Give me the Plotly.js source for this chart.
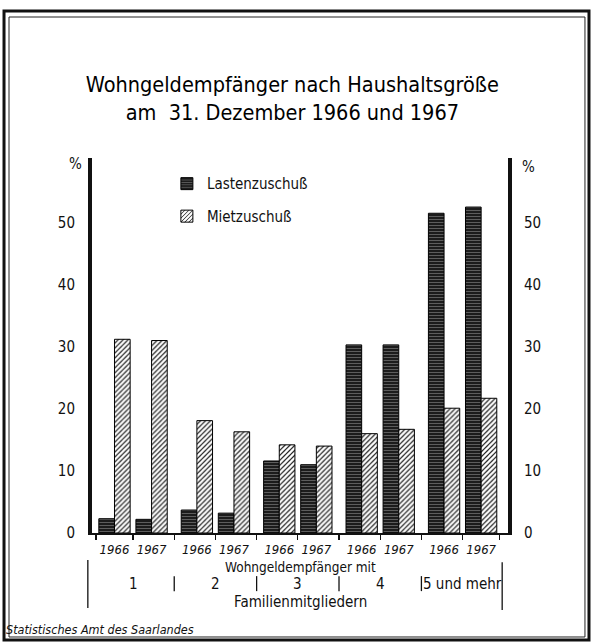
<!DOCTYPE html>
<html>
<head>
<meta charset="utf-8">
<script src="https://cdn.plot.ly/plotly-3.0.1.min.js"></script>
<style>html,body{margin:0;padding:0;background:#fff;}#chart{width:593px;height:643px;}</style>
</head>
<body>
<div id="chart"></div>
<script>
// ---- data ----
const groups = ['1', '2', '3', '4', '5 und mehr'];
const years = ['1966', '1967'];
const lastenzuschuss = [2.3, 2.2, 3.7, 3.2, 11.6, 11.0, 30.3, 30.3, 51.5, 52.5];
const mietzuschuss = [31.2, 31.0, 18.1, 16.3, 14.2, 14.0, 16.0, 16.7, 20.1, 21.7];
const yTicks = [0, 10, 20, 30, 40, 50];

// ---- derived positions (group index + year offset) ----
const yearOffset = 0.225;
const xPos = [], yearLabels = [];
groups.forEach((g, gi) => {
  years.forEach((y, yi) => {
    xPos.push(gi + 1 + (yi === 0 ? -yearOffset : yearOffset));
    yearLabels.push(y);
  });
});
const boundaries = [];
boundaries.push(xPos[0] - (xPos[1] - xPos[0]) / 2);
for (let i = 0; i < xPos.length - 1; i++) boundaries.push((xPos[i] + xPos[i + 1]) / 2);
boundaries.push(xPos[xPos.length - 1] + (xPos[1] - xPos[0]) / 2);

const FONT = '"Liberation Sans Narrow", "DejaVu Sans Condensed", "Roboto Condensed", "Liberation Sans", sans-serif';
const barW = 0.19;

const traces = [
  {
    type: 'bar', name: 'Lastenzuschuß', x: xPos, y: lastenzuschuss,
    width: barW, offset: -barW, legendgroup: 'a',
    marker: {color: '#1c1c1c', line: {color: '#000', width: 1},
      pattern: {shape: '-', fgcolor: '#8a8a8a', bgcolor: '#1c1c1c', size: 3, solidity: 0.2}},
    hoverinfo: 'skip'
  },
  {
    type: 'bar', name: 'Mietzuschuß', x: xPos, y: mietzuschuss,
    width: barW, offset: 0, legendgroup: 'b',
    marker: {color: '#ffffff', line: {color: '#000', width: 1},
      pattern: {shape: '/', fgcolor: '#222', bgcolor: '#ffffff', size: 3.5, solidity: 0.35}},
    hoverinfo: 'skip'
  },
  // invisible trace to activate the right axis
  {type: 'scatter', x: [xPos[0]], y: [0], yaxis: 'y2', mode: 'markers',
   marker: {opacity: 0}, showlegend: false, hoverinfo: 'skip'},
  // invisible trace for secondary x axis (boundary ticks)
  {type: 'scatter', x: [xPos[0]], y: [0], xaxis: 'x2', mode: 'markers',
   marker: {opacity: 0}, showlegend: false, hoverinfo: 'skip'}
];

const xr = [0.502, 5.551];
const yr = [0, 60.4];

const annotations = [];
// group labels
groups.forEach((g, gi) => {
  annotations.push({x: gi + 1, xref: 'x', y: -0.137, yref: 'paper', text: g, showarrow: false,
    font: {family: FONT, size: 15, color: '#111'}, xanchor: 'center', yanchor: 'middle', borderpad: 0});
});
annotations.push({x: 0.5, xref: 'paper', y: -0.09, yref: 'paper', text: 'Wohngeldempfänger mit',
  showarrow: false, font: {family: FONT, size: 13.5, color: '#111'}, yanchor: 'middle', borderpad: 0});
annotations.push({x: 0.5, xref: 'paper', y: -0.183, yref: 'paper', text: 'Familienmitgliedern',
  showarrow: false, font: {family: FONT, size: 15, color: '#111'}, yanchor: 'middle', borderpad: 0});
annotations.push({x: -0.06, xref: 'paper', y: 0.985, yref: 'paper', text: '%',
  showarrow: false, font: {family: FONT, size: 15, color: '#111'}, yanchor: 'middle'});
annotations.push({x: 1.07, xref: 'paper', y: 0.975, yref: 'paper', text: '%',
  showarrow: false, font: {family: FONT, size: 15, color: '#111'}, yanchor: 'middle'});
annotations.push({x: -0.211, xref: 'paper', y: -0.257, yref: 'paper', text: '<i>Statistisches Amt des Saarlandes</i>',
  showarrow: false, font: {family: FONT, size: 12.5, color: '#111'}, xanchor: 'left', yanchor: 'middle'});

const shapes = [];
// separators between groups
for (let gi = 1; gi < groups.length; gi++) {
  shapes.push({type: 'line', xref: 'x', yref: 'paper', x0: gi + 0.5, x1: gi + 0.5, y0: -0.115, y1: -0.155,
    line: {color: '#111', width: 1.3}});
}
// tall lines at both ends
shapes.push({type: 'line', xref: 'paper', yref: 'paper', x0: -0.01, x1: -0.01, y0: -0.072, y1: -0.2, line: {color: '#111', width: 1.3}});
shapes.push({type: 'line', xref: 'paper', yref: 'paper', x0: 0.986, x1: 0.986, y0: -0.078, y1: -0.205, line: {color: '#111', width: 1.3}});
// frame
shapes.push({type: 'rect', xref: 'paper', yref: 'paper', x0: -0.2115, x1: 1.1947, y0: -0.2853, y1: 1.392,
  line: {color: '#111', width: 3}});
shapes.push({type: 'rect', xref: 'paper', yref: 'paper', x0: -0.1995, x1: 1.185, y0: -0.2773, y1: 1.376,
  line: {color: '#222', width: 1}});

const layout = {
  width: 593, height: 643,
  margin: {l: 92, r: 85, t: 158, b: 110, pad: 0},
  paper_bgcolor: '#fff', plot_bgcolor: '#fff',
  font: {family: FONT, color: '#111'},
  title: {text: 'Wohngeldempfänger nach Haushaltsgröße<br>am  31. Dezember 1966 und 1967',
    font: {family: FONT, size: 21.5, color: '#000', weight: 500}, x: 0.493, xanchor: 'center',
    y: 0.857, yanchor: 'middle', yref: 'container'},
  barmode: 'overlay',
  showlegend: true,
  legend: {x: 0.18, y: 0.975, xanchor: 'left', yanchor: 'top', traceorder: 'grouped',
    tracegroupgap: 10, font: {family: FONT, size: 15, color: '#111'}, bgcolor: 'rgba(0,0,0,0)'},
  xaxis: {range: xr, tickmode: 'array', tickvals: xPos, ticktext: yearLabels, ticks: '',
    showgrid: false, zeroline: false, showline: true, linecolor: '#111', linewidth: 1.5,
    ticklabelstandoff: 4,
    tickfont: {family: FONT, size: 13, style: 'italic', color: '#111'}, fixedrange: true},
  xaxis2: {range: xr, overlaying: 'x', anchor: 'y', side: 'bottom', tickmode: 'array', tickvals: boundaries,
    ticks: 'outside', ticklen: 6, tickwidth: 1.2, tickcolor: '#111', showticklabels: false,
    showgrid: false, zeroline: false, showline: false},
  yaxis: {range: yr, tickmode: 'array', tickvals: yTicks, ticks: '', showgrid: false, zeroline: false,
    showline: true, linecolor: '#111', linewidth: 4, ticklabelstandoff: 10,
    tickfont: {family: FONT, size: 15, color: '#111'}, fixedrange: true},
  yaxis2: {range: yr, overlaying: 'y', side: 'right', tickmode: 'array', tickvals: yTicks, ticks: '',
    showgrid: false, zeroline: false, showline: true, linecolor: '#111', linewidth: 4, ticklabelstandoff: 9,
    tickfont: {family: FONT, size: 15, color: '#111'}, fixedrange: true},
  annotations: annotations,
  shapes: shapes
};

Plotly.newPlot('chart', traces, layout, {displayModeBar: false, staticPlot: true});
</script>
</body>
</html>
